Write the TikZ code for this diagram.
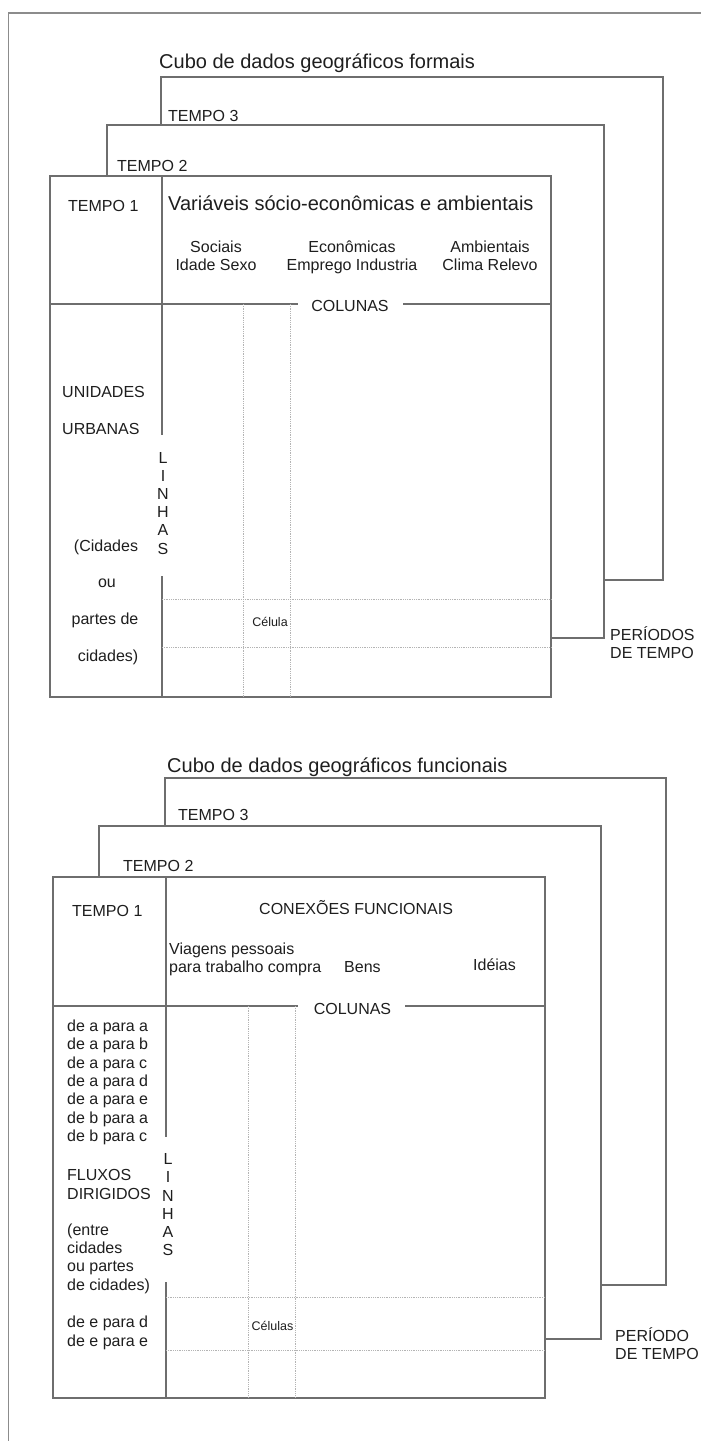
\documentclass[tikz,border=0pt]{standalone}
\usepackage{fontspec}
\setmainfont{Liberation Sans}
\definecolor{linegray}{HTML}{6E6E6E}
\definecolor{bordergray}{HTML}{8C8C8C}
\definecolor{dotgray}{HTML}{B4B4B4}
\definecolor{txtgray}{HTML}{1E1E1E}
\begin{document}
\begin{tikzpicture}[x=1pt,y=-1pt,
  frame/.style={draw=linegray, line width=1.2pt, fill=white},
  rule/.style={draw=linegray, line width=1.2pt},
  border/.style={draw=bordergray, line width=1.2pt},
  dotline/.style={draw=dotgray, line width=0.7pt, dash pattern=on 0.9pt off 0.9pt},
  txt/.style={inner sep=0pt, text=txtgray, font=\fontsize{16}{18.3}\selectfont},
  big/.style={txt, font=\fontsize{20}{24}\selectfont},
  small/.style={txt, font=\fontsize{12.5}{14}\selectfont}]
\useasboundingbox (0,0) rectangle (701,1441);
% outer border
\coordinate (bTR) at (701,13);
\coordinate (bTL) at (8.5,13);
\coordinate (bBL) at (8.5,1441);
\draw[border] (bTR) -- (bTL) -- (bBL);

% ================= top cube =================
\draw[frame] (161,77) rectangle (663,580);
\draw[frame] (107,125) rectangle (604,638);
\draw[frame] (50,176) rectangle (551,697);
\draw[rule] (162,176) -- (162,435);
\draw[rule] (162,576) -- (162,697);
\draw[rule] (50,304) -- (298,304);
\draw[rule] (403,304) -- (551,304);
\draw[dotline] (243,304) -- (243,697);
\draw[dotline] (290,304) -- (290,697);
\draw[dotline] (162,599) -- (551,599);
\draw[dotline] (162,647) -- (551,647);

\node[big, anchor=base west] (aTitle) at (159,68.5) {Cubo de dados geográficos formais};
\node[txt, anchor=base west] (aT3) at (168,121) {TEMPO 3};
\node[txt, anchor=base west] (aT2) at (117,171) {TEMPO 2};
\node[txt, anchor=base west] (aT1) at (68,211) {TEMPO 1};
\node[big, anchor=base west] (aVar) at (168,210) {Variáveis sócio-econômicas e ambientais};
\node[txt, anchor=base] (aSoc) at (216,252.5) {Sociais};
\node[txt, anchor=base] (aSoc2) at (216,270.5) {Idade Sexo};
\node[txt, anchor=base] (aEco) at (352,252.5) {Econômicas};
\node[txt, anchor=base] (aEco2) at (352,270.5) {Emprego Industria};
\node[txt, anchor=base] (aAmb) at (490,252.5) {Ambientais};
\node[txt, anchor=base] (aAmb2) at (490,270.5) {Clima Relevo};
\node[txt, anchor=base] (aCol) at (350,311) {COLUNAS};
\node[txt, anchor=base west] (aUni) at (62,397) {UNIDADES};
\node[txt, anchor=base west] (aUrb) at (62,434) {URBANAS};
\node[txt, anchor=base] (aCid) at (106,551) {(Cidades};
\node[txt, anchor=base] (aOu) at (107,587) {ou};
\node[txt, anchor=base] (aPar) at (105,624) {partes de};
\node[txt, anchor=base] (aCid2) at (108,661) {cidades)};
\foreach \l [count=\i from 0] in {L,I,N,H,A,S}
  \node[txt, anchor=base] (aLin\i) at (163,463+18.2*\i) {\l};
\node[small, anchor=base] (aCel) at (270,626.5) {Célula};
\node[txt, anchor=base west] (aPer) at (610,640) {PERÍODOS};
\node[txt, anchor=base west] (aPer2) at (610,658) {DE TEMPO};

% ================= bottom cube =================
\draw[frame] (165,778) rectangle (666,1285);
\draw[frame] (99,826) rectangle (601,1339);
\draw[frame] (53,877) rectangle (545,1398);
\draw[rule] (166,877) -- (166,1137);
\draw[rule] (166,1282) -- (166,1398);
\draw[rule] (53,1006) -- (298,1006);
\draw[rule] (405,1006) -- (545,1006);
\draw[dotline] (248,1006) -- (248,1398);
\draw[dotline] (295,1006) -- (295,1398);
\draw[dotline] (166,1297) -- (545,1297);
\draw[dotline] (166,1350) -- (545,1350);

\node[big, anchor=base west] (bTitle) at (167,772) {Cubo de dados geográficos funcionais};
\node[txt, anchor=base west] (bT3) at (178,820) {TEMPO 3};
\node[txt, anchor=base west] (bT2) at (123,871) {TEMPO 2};
\node[txt, anchor=base west] (bT1) at (72,916) {TEMPO 1};
\node[txt, anchor=base west] (bCon) at (259,914) {CONEXÕES FUNCIONAIS};
\node[txt, anchor=base west] (bVia) at (169,954) {Viagens pessoais};
\node[txt, anchor=base west] (bVia2) at (169,972.5) {para trabalho compra};
\node[txt, anchor=base west] (bBens) at (344,972.5) {Bens};
\node[txt, anchor=base west] (bIde) at (473,970) {Idéias};
\node[txt, anchor=base] (bCol) at (352.5,1014) {COLUNAS};
\foreach \t [count=\i from 0] in {de a para a,de a para b,de a para c,de a para d,de a para e,de b para a,de b para c}
  \node[txt, anchor=base west] (bList\i) at (67,1031.5+18.33*\i) {\t};
\node[txt, anchor=base west] (bFlu) at (67,1180) {FLUXOS};
\node[txt, anchor=base west] (bDir) at (67,1199) {DIRIGIDOS};
\node[txt, anchor=base west] (bEnt) at (67,1235) {(entre};
\node[txt, anchor=base west] (bEnt2) at (67,1253.3) {cidades};
\node[txt, anchor=base west] (bEnt3) at (67,1271.6) {ou partes};
\node[txt, anchor=base west] (bEnt4) at (67,1290) {de cidades)};
\node[txt, anchor=base west] (bDe1) at (67,1327.5) {de e para d};
\node[txt, anchor=base west] (bDe2) at (67,1346) {de e para e};
\foreach \l [count=\i from 0] in {L,I,N,H,A,S}
  \node[txt, anchor=base] (bLin\i) at (168,1164.7+18.2*\i) {\l};
\node[small, anchor=base] (bCel) at (272.5,1330.5) {Células};
\node[txt, anchor=base west] (bPer) at (615,1341) {PERÍODO};
\node[txt, anchor=base west] (bPer2) at (615,1359) {DE TEMPO};
\end{tikzpicture}
\end{document}
